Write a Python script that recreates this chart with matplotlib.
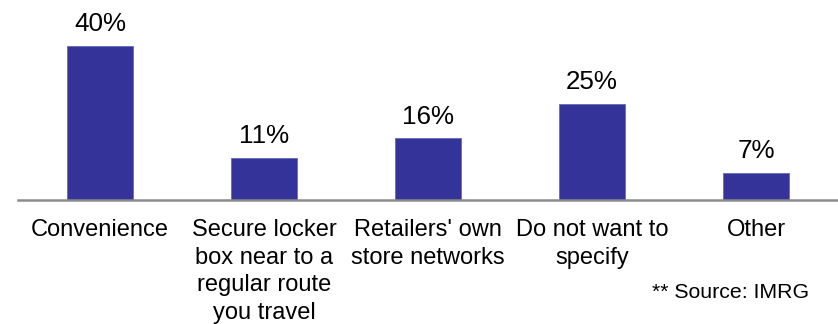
import matplotlib
matplotlib.use("Agg")
import matplotlib.pyplot as plt

categories = [
    "Convenience",
    "Secure locker\nbox near to a\nregular route\nyou travel",
    "Retailers' own\nstore networks",
    "Do not want to\nspecify",
    "Other",
]
shares = [40, 11, 16, 25, 7]
value_labels = ["40%", "11%", "16%", "25%", "7%"]

plt.rcParams["font.family"] = ["Liberation Sans", "DejaVu Sans"]

fig = plt.figure(figsize=(8.38, 3.24), dpi=100)
ax = fig.add_axes([18 / 838, 124 / 324, 820 / 838, 200 / 324])

x = range(len(categories))
bars = ax.bar(x, shares, width=0.40, color="#333399", edgecolor="#6a6ab8", linewidth=0.6)

for rect, lab in zip(bars, value_labels):
    ax.annotate(lab, (rect.get_x() + rect.get_width() / 2, rect.get_height()),
                xytext=(0, 7), textcoords="offset points",
                ha="center", va="bottom", fontsize=18.7, color="black")

ax.set_xlim(-0.5, 4.5)
ax.set_ylim(0, 52)
ax.set_xticks(list(x))
ax.set_xticklabels(categories, fontsize=17, linespacing=1.32, va="top")
ax.tick_params(axis="x", length=0, pad=14)
ax.set_yticks([])
for side in ("top", "right", "left"):
    ax.spines[side].set_visible(False)
ax.spines["bottom"].set_color("#8c8c8c")
ax.spines["bottom"].set_linewidth(1.8)
ax.patch.set_visible(False)

fig.text(809 / 838, 1 - 292 / 324, "** Source: IMRG", ha="right", va="center", fontsize=15.3)

fig.savefig("out.png", dpi=100, facecolor="white")
